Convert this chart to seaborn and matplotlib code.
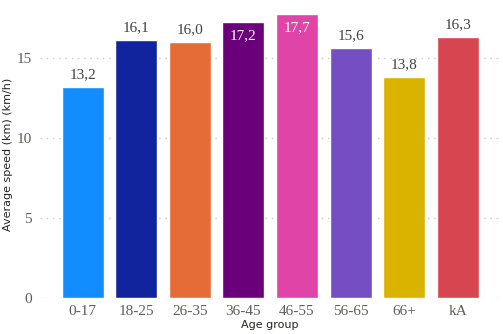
import matplotlib
matplotlib.use("Agg")
import matplotlib.pyplot as plt
import seaborn as sns
import pandas as pd

categories = ["0-17", "18-25", "26-35", "36-45", "46-55", "56-65", "66+", "kA"]
speeds = [13.2, 16.1, 16.0, 17.2, 17.7, 15.6, 13.8, 16.3]
colors = ["#118DFF", "#12239E", "#E66C37", "#6B007B", "#E044A7", "#744EC2", "#D9B300", "#D64550"]
yticks = [0, 5, 10, 15]

df = pd.DataFrame({"Age group": categories, "speed": speeds})

sns.set_theme(style="white")
plt.rcParams["font.family"] = ["DejaVu Sans"]

W, H = 503, 334
fig = plt.figure(figsize=(W / 100, H / 100), dpi=100)
ax = fig.add_axes([0.0795, 0.1078, 0.9145, 0.8922])

sns.barplot(data=df, x="Age group", y="speed", hue="Age group",
            palette=dict(zip(categories, colors)), legend=False,
            width=0.785, saturation=1, ax=ax, zorder=2)

ax.set_ylim(0, 18.6)
ax.set_xlim(-0.8, 7.79)
ax.set_yticks(yticks)
ax.set_yticklabels([str(t) for t in yticks])
for s in ax.spines.values():
    s.set_visible(False)
ax.grid(axis="y", linestyle=(0, (1, 3.5)), color="#C8C8C8", linewidth=1, zorder=0)
ax.grid(axis="x", visible=False)
ax.tick_params(axis="both", length=0)
for lab in ax.get_xticklabels() + ax.get_yticklabels():
    lab.set_fontfamily("Liberation Serif")
    lab.set_fontsize(11)
    lab.set_color("#605E5C")
ax.tick_params(axis="y", pad=6)
ax.tick_params(axis="x", pad=5)

ax.set_xlabel("")
ax.set_ylabel("")
fig.text(270 / W, 1 - 325 / H, "Age group", fontsize=8, color="#252423",
         ha="center", va="center")
fig.text(8 / W, 1 - 154 / H, "Average speed (km) (km/h)", fontsize=8, color="#252423",
         ha="center", va="center", rotation=90)

for i, v in enumerate(speeds):
    txt = f"{v:.1f}".replace(".", ",")
    if v > 17:
        ax.text(i, v - 0.45, txt, ha="center", va="top", color="white",
                fontsize=11, fontfamily="Liberation Serif", zorder=3)
    else:
        ax.text(i, v + 0.35, txt, ha="center", va="bottom", color="#404040",
                fontsize=11, fontfamily="Liberation Serif", zorder=3)

fig.savefig("out.png", dpi=100)
